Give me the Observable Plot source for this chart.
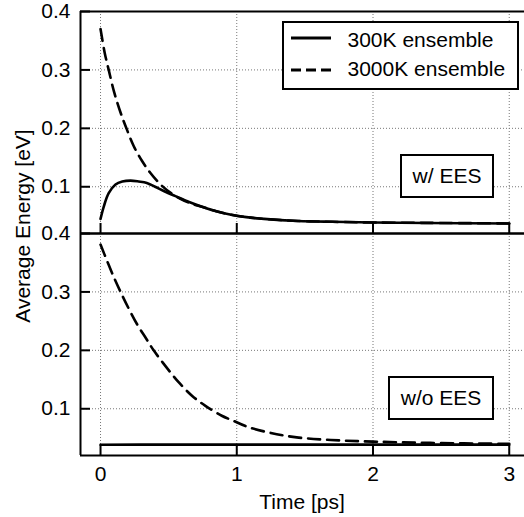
<!DOCTYPE html>
<html>
<head>
<meta charset="utf-8">
<script src="https://cdn.jsdelivr.net/npm/d3@7"></script>
<script src="https://cdn.jsdelivr.net/npm/@observablehq/plot@0.6"></script>
<style>
  html, body { margin: 0; padding: 0; background: #fff; }
  #wrap { position: relative; width: 524px; height: 517px; overflow: hidden;
          font-family: "Liberation Sans", Arial, sans-serif; color: #000; }
  .ov { position: absolute; font-size: 21px; line-height: 21px; white-space: nowrap; }
  .box { position: absolute; box-sizing: border-box; border: 2px solid #000; background: #fff;
         display: flex; align-items: center; justify-content: center; font-size: 21px; }
</style>
</head>
<body>
<div id="wrap"></div>
<script>
// ---- data ----
const panels = ["w/ EES", "w/o EES"];
const seriesNames = ["300K ensemble", "3000K ensemble"];
const xTicks = [0, 1, 2, 3];
const yTicks = [0.1, 0.2, 0.3, 0.4];
const yGrid = [0.1, 0.2, 0.3];
const xDomain = [-0.147, 3.112];
const yDomain = [0.02, 0.4];

// w/ EES, 300K (solid)
const topSolidT = [0, 0.025, 0.06, 0.11, 0.16, 0.22, 0.28, 0.34, 0.40, 0.48, 0.55, 0.65, 0.75, 0.85, 0.95, 1.07, 1.2, 1.45, 1.7, 2.0, 2.4, 3.0];
const topSolidV = [0.045, 0.067, 0.089, 0.104, 0.109, 0.1105, 0.109, 0.1065, 0.100, 0.091, 0.084, 0.074, 0.0655, 0.058, 0.0525, 0.048, 0.045, 0.0415, 0.040, 0.0388, 0.038, 0.037];
// w/ EES, 3000K (dashed)
const topDashT = [0, 0.03, 0.06, 0.1, 0.15, 0.19, 0.245, 0.305, 0.365, 0.44, 0.515, 0.59, 0.67, 0.75, 0.85, 0.95, 1.07, 1.2, 1.45, 1.7, 2.0, 2.4, 3.0];
const topDashV = [0.370, 0.330, 0.300, 0.262, 0.225, 0.200, 0.169, 0.144, 0.124, 0.104, 0.0895, 0.079, 0.071, 0.0655, 0.058, 0.0525, 0.048, 0.045, 0.0415, 0.040, 0.0388, 0.0382, 0.0372];
// w/o EES, 300K (solid)
const botSolidT = [0, 0.5, 1, 1.5, 2, 2.5, 3];
const botSolidV = [0.0385, 0.0386, 0.0386, 0.0386, 0.0386, 0.0386, 0.0386];
// w/o EES, 3000K (dashed)
const botDashT = [0, 0.05, 0.1, 0.147, 0.208, 0.27, 0.33, 0.39, 0.477, 0.575, 0.673, 0.77, 0.89, 0.97, 1.08, 1.25, 1.44, 1.69, 2.0, 2.42, 3.0];
const botDashV = [0.381, 0.352, 0.324, 0.300, 0.271, 0.244, 0.222, 0.200, 0.173, 0.145, 0.122, 0.105, 0.088, 0.080, 0.069, 0.0586, 0.051, 0.0466, 0.0438, 0.0416, 0.040];

function rows(panel, series, T, V) {
  return T.map((t, i) => ({panel, series, t, v: V[i]}));
}
const solidRows = [...rows(panels[0], seriesNames[0], topSolidT, topSolidV), ...rows(panels[1], seriesNames[0], botSolidT, botSolidV)];
const dashRows = [...rows(panels[0], seriesNames[1], topDashT, topDashV), ...rows(panels[1], seriesNames[1], botDashT, botDashV)];

const gridStyle = {stroke: "#777", strokeOpacity: 1, strokeWidth: 1, strokeDasharray: "1,2"};

const chart = Plot.plot({
  width: 524,
  height: 517,
  marginLeft: 80,
  marginRight: 0,
  marginTop: 10,
  marginBottom: 62,
  style: {fontFamily: "'Liberation Sans', Arial, sans-serif", fontSize: "21px", color: "#000", background: "#fff", overflow: "visible"},
  x: {domain: xDomain, label: null},
  y: {domain: yDomain, label: null},
  fy: {domain: panels, padding: 0, axis: null, label: null},
  marks: [
    Plot.gridX(xTicks, gridStyle),
    Plot.gridY(yGrid, gridStyle),
    Plot.line(solidRows, {x: "t", y: "v", fy: "panel", z: "panel", stroke: "#000", strokeWidth: 2.6, curve: "catmull-rom"}),
    Plot.line(dashRows, {x: "t", y: "v", fy: "panel", z: "panel", stroke: "#000", strokeWidth: 2.6, strokeDasharray: "12,7", curve: "catmull-rom"}),
    // frame (left, top, bottom)
    Plot.ruleY([yDomain[0], yDomain[1]], {stroke: "#000", strokeWidth: 2}),
    Plot.ruleX([xDomain[0]], {stroke: "#000", strokeWidth: 2}),
    // inward ticks
    Plot.axisY(yTicks, {tickSize: 10, dx: 10, tickFormat: () => "", strokeWidth: 2, stroke: "#000"}),
    Plot.axisX(xTicks, {anchor: "bottom", tickSize: 10, dy: -10, tickFormat: () => "", strokeWidth: 2, stroke: "#000", facetAnchor: null}),
    // tick labels
    Plot.axisY(yTicks, {tickSize: 0, tickPadding: 10, tickFormat: d => d.toFixed(1), fontSize: 21}),
    Plot.axisX(xTicks, {anchor: "bottom", tickSize: 0, tickPadding: 10.5, tickFormat: d => String(d), fontSize: 21})
  ]
});

const wrap = document.getElementById("wrap");
wrap.appendChild(chart);

function addDiv(cls, html, style) {
  const d = document.createElement("div");
  d.className = cls;
  d.innerHTML = html;
  Object.assign(d.style, style);
  wrap.appendChild(d);
  return d;
}

// axis titles
addDiv("ov", "Time [ps]", {left: "302px", top: "490.5px", transform: "translateX(-50%)"});
addDiv("ov", "Average Energy [eV]", {left: "22px", top: "225.5px", transform: "translate(-50%,-50%) rotate(-90deg)"});

// legend
const leg = addDiv("box", "", {left: "282px", top: "21px", width: "237px", height: "69px", display: "block"});
const legSvg = `<svg width="524" height="517" style="position:absolute;left:-284px;top:-23px;overflow:visible">
  <line x1="291" x2="331" y1="38" y2="38" stroke="#000" stroke-width="2.8"/>
  <line x1="291" x2="331" y1="70" y2="70" stroke="#000" stroke-width="2.8" stroke-dasharray="10,5"/>
</svg>`;
leg.innerHTML = legSvg;
addDiv("ov", seriesNames[0], {left: "347.5px", top: "29px"});
addDiv("ov", seriesNames[1], {left: "347.5px", top: "58px"});

// panel annotations
addDiv("box", panels[0], {left: "400px", top: "154px", width: "94px", height: "44px"});
addDiv("box", panels[1], {left: "388px", top: "376px", width: "106px", height: "44px"});
</script>
</body>
</html>
